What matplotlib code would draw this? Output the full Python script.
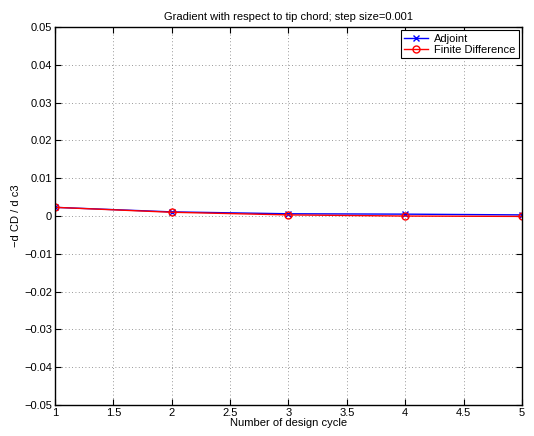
import matplotlib
matplotlib.use("Agg")
import matplotlib.pyplot as plt

plt.rcParams['font.family'] = ['Liberation Sans', 'DejaVu Sans']
plt.rcParams['axes.unicode_minus'] = False

cycles = [1, 2, 3, 4, 5]
adjoint = [0.0023, 0.0011, 0.0006, 0.0005, 0.0003]
finite_diff = [0.0023, 0.0010, 0.0003, 0.0000, -0.0001]

title = "Gradient with respect to tip chord; step size=0.001"
xlabel = "Number of design cycle"
ylabel = "\u2212d CD / d c3"
xticks = [1, 1.5, 2, 2.5, 3, 3.5, 4, 4.5, 5]
yticks = [-0.05, -0.04, -0.03, -0.02, -0.01, 0, 0.01, 0.02, 0.03, 0.04, 0.05]

fig = plt.figure(figsize=(5.34, 4.36), dpi=100)
ax = fig.add_axes([0.103, 0.071, 0.8745, 0.867])

ax.plot(cycles, adjoint, color='blue', marker='x', markersize=4, linewidth=1.0, label='Adjoint')
ax.plot(cycles, finite_diff, color='red', marker='o', markersize=5, markerfacecolor='none',
        linewidth=1.0, label='Finite Difference')

ax.set_xlim(1, 5)
ax.set_ylim(-0.05, 0.05)
ax.set_xticks(xticks)
ax.set_xticklabels(['1', '1.5', '2', '2.5', '3', '3.5', '4', '4.5', '5'])
ax.set_yticks(yticks)
ax.set_yticklabels(['0' if v == 0 else f"{v:g}".replace('-', '\u2212') for v in yticks])
ax.tick_params(direction='in', labelsize=8, length=4, width=0.8, top=True, right=True, pad=2)
ax.grid(True, linestyle=(0, (1, 3)), color='#777777', linewidth=0.6)
for s in ax.spines.values():
    s.set_linewidth(1.0)

ax.set_title(title, fontsize=8, pad=5)
ax.set_xlabel(xlabel, fontsize=8, labelpad=0)
ax.set_ylabel(ylabel, fontsize=8, labelpad=2)

leg = ax.legend(loc='upper right', fontsize=8, fancybox=False, framealpha=1,
                edgecolor='black', borderpad=0.3, handlelength=2.2, labelspacing=0.1,
                borderaxespad=0.3, handletextpad=0.5)
leg.get_frame().set_linewidth(0.8)

fig.savefig('out.png', dpi=100)
